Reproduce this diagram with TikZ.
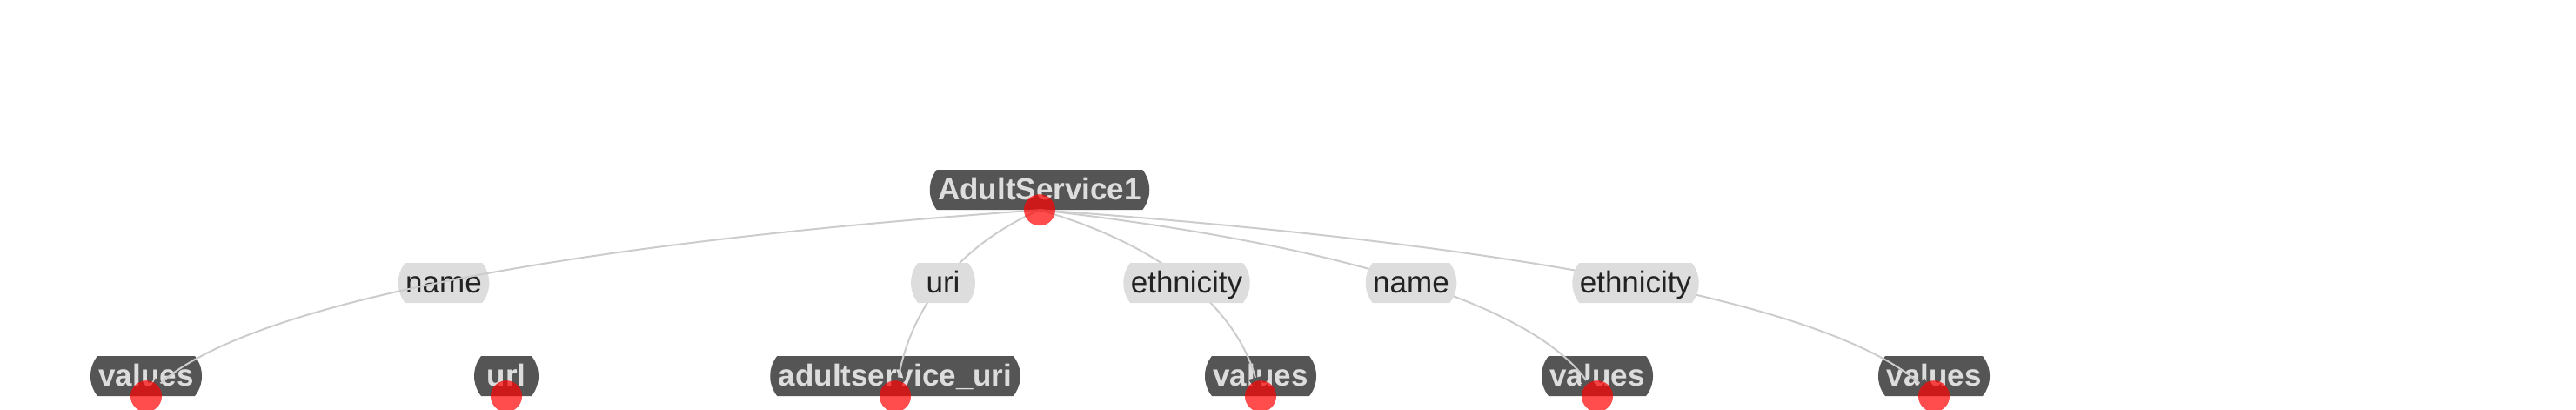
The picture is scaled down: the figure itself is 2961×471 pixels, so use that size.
\documentclass[tikz,border=0pt]{standalone}
\usepackage{fontspec}
\setmainfont{Liberation Sans}
\usetikzlibrary{shapes.misc,arrows.meta,calc}
\definecolor{nodegray}{HTML}{555555}
\definecolor{nodetext}{HTML}{DDDDDD}
\definecolor{lblfill}{HTML}{DDDDDD}
\definecolor{lbltext}{HTML}{222222}
\definecolor{edgegray}{HTML}{CCCCCC}
\definecolor{dotred}{HTML}{FF0000}
\begin{document}
\begin{tikzpicture}[x=1pt,y=-1pt,
  entity/.style={rounded rectangle, rounded rectangle arc length=77,
    fill=nodegray, text=nodetext, font=\fontsize{35pt}{40pt}\selectfont\bfseries,
    inner xsep=1.5pt, inner ysep=0pt, text height=34.5pt, text depth=11.5pt},
  rel/.style={rounded rectangle, rounded rectangle arc length=77,
    fill=lblfill, text=lbltext, font=\fontsize{35pt}{40pt}\selectfont,
    inner xsep=0.5pt, inner ysep=0pt, text height=34.5pt, text depth=11.5pt},
  link/.style={draw=edgegray, line width=2pt,
    -{Triangle[length=22pt,width=16pt,color=nodegray]}},
  reddot/.style={fill=dotred, fill opacity=0.7}]
\useasboundingbox (0,0) rectangle (2961,471);
% entity nodes
\node[entity] (svc) at (1195,218) {AdultService1};
\node[entity] (v1) at (168,432) {values};
\node[entity] (url) at (582,432) {url};
\node[entity] (asu) at (1029,432) {adultservice\_uri};
\node[entity] (v2) at (1449,432) {values};
\node[entity] (v3) at (1836,432) {values};
\node[entity] (v4) at (2223,432) {values};
% label positions
\coordinate (p1) at (510,325);
\coordinate (p2) at (1084,325);
\coordinate (p3) at (1364,325);
\coordinate (p4) at (1622,325);
\coordinate (p5) at (1880,325);
% edges drawn beneath their labels
\draw[link] (svc.south) .. controls ($(asu.south)!4/3!(p2)$) and ($(svc.south)!4/3!(p2)$) .. (asu.south);
\draw[link] (svc.south) .. controls ($(v2.south)!4/3!(p3)$) and ($(svc.south)!4/3!(p3)$) .. (v2.south);
\draw[link] (svc.south) .. controls ($(v3.south)!4/3!(p4)$) and ($(svc.south)!4/3!(p4)$) .. (v3.south);
\draw[link] (svc.south) .. controls ($(v4.south)!4/3!(p5)$) and ($(svc.south)!4/3!(p5)$) .. (v4.south);
% labels
\node[rel] (l1) at (p1) {name};
\node[rel] (l2) at (p2) {uri};
\node[rel] (l3) at (p3) {ethnicity};
\node[rel] (l4) at (p4) {name};
\node[rel] (l5) at (p5) {ethnicity};
% edge drawn over its label
\draw[link] (svc.south) .. controls ($(v1.south)!4/3!(l1.center)$) and ($(svc.south)!4/3!(l1.center)$) .. (v1.south);
% dots
\foreach \n in {svc,v1,url,asu,v2,v3,v4}
  \fill[reddot] (\n.south) circle (18pt);
\end{tikzpicture}
\end{document}
